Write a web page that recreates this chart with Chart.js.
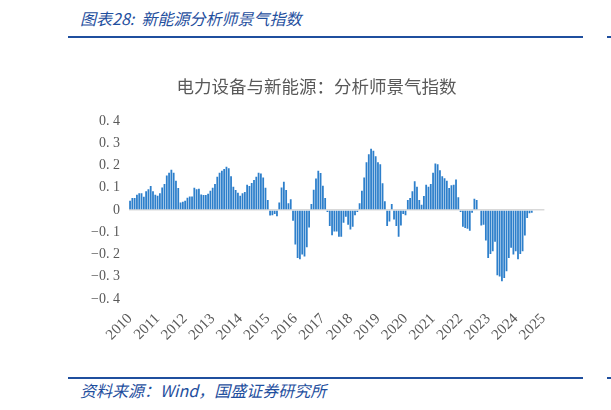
<!DOCTYPE html>
<html lang="zh">
<head>
  <meta charset="UTF-8" />
  <title>新能源分析师景气指数</title>
  <script src="https://cdn.jsdelivr.net/npm/chart.js"></script>
  <style>
    * { box-sizing: border-box; }
    body {
      margin: 0;
      width: 611px;
      height: 410px;
      background: #fff;
      position: relative;
      overflow: hidden;
      font-family: 'Noto Sans CJK SC', sans-serif;
    }
    .cap {
      position: absolute;
      left: 80px;
      color: #1f4f9e;
      font-style: italic;
      white-space: nowrap;
      line-height: 1;
    }
    #titulo { top: 10px; font-size: 16px; }
    #fuente { top: 382px; font-size: 16px; }
    .linea {
      position: absolute;
      height: 2px;
      background: #1f4f9e;
    }
    #grafico {
      position: absolute;
      left: 82px;
      top: 70px;
      width: 477px;
      height: 277px;
    }
  </style>
</head>
<body>
  <div class="cap" id="titulo">图表28:&nbsp; 新能源分析师景气指数</div>
  <div class="linea" style="left:68px; top:36px; width:515px;"></div>
  <div class="linea" style="left:607px; top:36px; width:4px;"></div>

  <div id="grafico"><canvas id="c"></canvas></div>

  <div class="linea" style="left:68px; top:377px; width:515px;"></div>
  <div class="linea" style="left:607px; top:377px; width:4px;"></div>
  <div class="cap" id="fuente">资料来源：Wind，国盛证券研究所</div>

  <script>
    // eje x: años de las etiquetas, datos mensuales desde 2010-01
    const years = ['2010', '2011', '2012', '2013', '2014', '2015', '2016', '2017',
                   '2018', '2019', '2020', '2021', '2022', '2023', '2024', '2025'];
    const yTicks = [0.4, 0.3, 0.2, 0.1, 0, -0.1, -0.2, -0.3, -0.4];

    // 电力设备与新能源 分析师景气指数 (mensual, 2010-01 .. 2024-08)
    const indice = [
      0.042, 0.054, 0.054, 0.069, 0.075, 0.075, 0.060, 0.084, 0.093, 0.108, 0.084, 0.069,
      0.064, 0.075, 0.101, 0.117, 0.155, 0.167, 0.181, 0.167, 0.131, 0.099, 0.034, 0.037,
      0.042, 0.055, 0.061, 0.061, 0.100, 0.093, 0.096, 0.070, 0.067, 0.067, 0.073, 0.087,
      0.100, 0.117, 0.149, 0.167, 0.176, 0.184, 0.194, 0.188, 0.152, 0.105, 0.090, 0.078,
      0.064, 0.075, 0.081, 0.114, 0.108, 0.121, 0.135, 0.149, 0.167, 0.164, 0.146, 0.100,
      0.045, -0.025, -0.024, -0.018, -0.028, 0.034, 0.101, 0.127, 0.090, 0.030, 0.048, -0.048,
      -0.155, -0.215, -0.221, -0.200, -0.209, -0.167, -0.078, 0.027, 0.091, 0.142, 0.176, 0.166,
      0.109, 0.054, -0.009, -0.072, -0.113, -0.096, -0.096, -0.120, -0.120, -0.057, -0.030, -0.066,
      -0.087, -0.075, -0.024, -0.009, 0.030, 0.087, 0.146, 0.215, 0.251, 0.275, 0.266, 0.242,
      0.215, 0.206, 0.120, 0.039, -0.072, -0.051, 0.027, -0.042, -0.072, -0.120, -0.069, -0.018,
      -0.024, 0.045, 0.054, 0.084, 0.129, 0.105, 0.045, 0.024, 0.063, 0.114, 0.105, 0.117,
      0.167, 0.209, 0.206, 0.179, 0.152, 0.143, 0.131, 0.099, 0.111, 0.114, 0.137, 0.057,
      -0.009, -0.075, -0.081, -0.084, -0.093, -0.012, 0.051, 0.045, 0, -0.069, -0.066, -0.137,
      -0.215, -0.197, -0.185, -0.143, -0.293, -0.299, -0.320, -0.305, -0.275, -0.215, -0.170, -0.200,
      -0.185, -0.221, -0.197, -0.185, -0.114, -0.036, -0.015, -0.012
    ];

    // categorías mensuales hasta 2025-01 (la última etiqueta del eje)
    const meses = [];
    years.forEach((y, i) => {
      const n = i === years.length - 1 ? 1 : 12;
      for (let m = 1; m <= n; m++) meses.push(y + '-' + String(m).padStart(2, '0'));
    });
    const valores = meses.map((_, i) => i < indice.length ? indice[i] : null);

    const fmt = v => {
      if (Math.abs(v) < 1e-9) return '0';
      const s = Math.abs(v).toFixed(1).replace('.', '. ');
      return (v < 0 ? '−' : '') + s;
    };

    new Chart(document.getElementById('c'), {
      type: 'bar',
      data: {
        labels: meses,
        datasets: [{
          data: valores,
          backgroundColor: '#2d7fcb',
          borderWidth: 0,
          barPercentage: 0.78,
          categoryPercentage: 1
        }]
      },
      options: {
        responsive: true,
        maintainAspectRatio: false,
        animation: false,
        layout: { padding: { left: 0, right: 8, top: 0, bottom: 0 } },
        plugins: {
          legend: { display: false },
          tooltip: { enabled: false },
          title: {
            display: true,
            text: '电力设备与新能源：分析师景气指数',
            color: '#595959',
            font: { family: "'Noto Sans CJK SC'", size: 17.5, weight: 'normal' },
            padding: { top: 6, bottom: 24 }
          }
        },
        scales: {
          x: {
            offset: true,
            grid: { display: false },
            border: { display: false },
            ticks: {
              autoSkip: false,
              minRotation: 45,
              maxRotation: 45,
              padding: 3,
              color: '#595959',
              font: { family: "'Liberation Serif'", size: 15 },
              callback: function (val, i) {
                const l = meses[i];
                return l.endsWith('-01') ? l.slice(0, 4) : '';
              }
            }
          },
          y: {
            min: -0.4,
            max: 0.4,
            afterBuildTicks: ax => { ax.ticks = yTicks.map(v => ({ value: v })); },
            grid: {
              drawTicks: false,
              color: ctx => Math.abs(ctx.tick.value) < 1e-9 ? '#d9d9d9' : 'rgba(0,0,0,0)',
              lineWidth: 1.5
            },
            border: { display: false },
            ticks: {
              padding: 9,
              color: '#595959',
              font: { family: "'Liberation Serif'", size: 14 },
              callback: v => fmt(v)
            }
          }
        }
      }
    });
  </script>
</body>
</html>
